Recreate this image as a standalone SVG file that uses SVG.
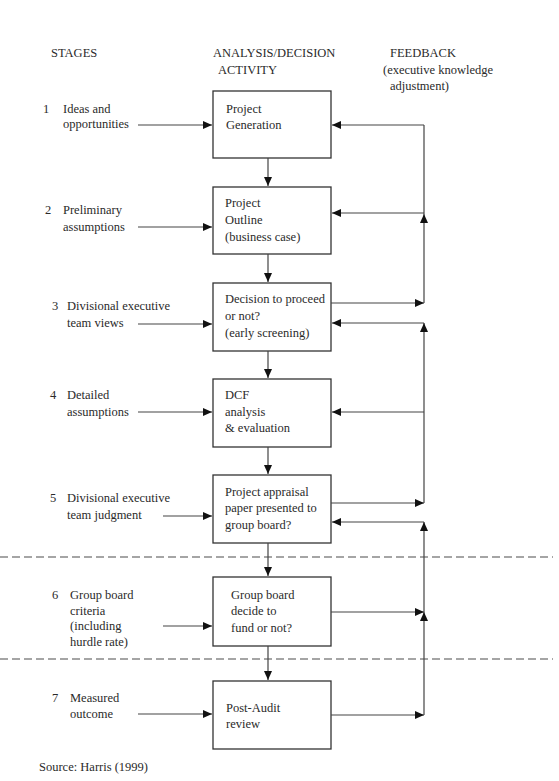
<svg xmlns="http://www.w3.org/2000/svg" width="559" height="781" viewBox="0 0 559 781">
<style>
text{font-family:"Liberation Serif","DejaVu Serif",serif;font-size:12.5px;fill:#2a2a2a}
.box{fill:#fff;stroke:#333;stroke-width:1.3}
.ln{fill:none;stroke:#444;stroke-width:1.2}
.ar{fill:none;stroke:#444;stroke-width:1.2;marker-end:url(#ah)}
.dash{fill:none;stroke:#888;stroke-width:1.4;stroke-dasharray:8 4}
</style>
<defs>
<marker id="ah" markerUnits="userSpaceOnUse" markerWidth="10" markerHeight="9" refX="9" refY="4" orient="auto">
<path d="M0,0 L9,4 L0,8 z" fill="#111"/>
</marker>
</defs>
<rect width="559" height="781" fill="#fff"/>

<g font-family="Liberation Serif, DejaVu Serif, serif">
<g id="headers">
<text x="51" y="57">STAGES</text>
<text x="213" y="57">ANALYSIS/DECISION</text>
<text x="218" y="74">ACTIVITY</text>
<text x="390" y="57">FEEDBACK</text>
<text x="383" y="74">(executive knowledge</text>
<text x="390" y="90">adjustment)</text>
</g>

<g id="dividers">
<path class="dash" d="M0,557 H553"/>
<path class="dash" d="M0,659 H553"/>
</g>

<g id="stage1"><text x="43" y="113">1</text><text x="63" y="113">Ideas and</text><text x="63" y="128">opportunities</text></g>
<g id="stage2"><text x="45" y="214">2</text><text x="63" y="214">Preliminary</text><text x="63" y="231">assumptions</text></g>
<g id="stage3"><text x="52" y="310">3</text><text x="67" y="310">Divisional executive</text><text x="67" y="327">team views</text></g>
<g id="stage4"><text x="50" y="399">4</text><text x="67" y="399">Detailed</text><text x="67" y="416">assumptions</text></g>
<g id="stage5"><text x="50" y="502">5</text><text x="67" y="502">Divisional executive</text><text x="67" y="519">team judgment</text></g>
<g id="stage6"><text x="52" y="599">6</text><text x="70" y="599">Group board</text><text x="70" y="615">criteria</text><text x="70" y="630">(including</text><text x="70" y="646">hurdle rate)</text></g>
<g id="stage7"><text x="52" y="702">7</text><text x="70" y="702">Measured</text><text x="70" y="718">outcome</text></g>

<g id="box1"><rect class="box" x="213" y="91" width="118" height="67"/><text x="226" y="113">Project</text><text x="226" y="129">Generation</text></g>
<g id="box2"><rect class="box" x="213" y="187" width="118" height="67"/><text x="225" y="207">Project</text><text x="225" y="224">Outline</text><text x="225" y="241">(business case)</text></g>
<g id="box3"><rect class="box" x="213" y="283" width="118" height="68"/><text x="225" y="303">Decision to proceed</text><text x="225" y="320">or not?</text><text x="225" y="337">(early screening)</text></g>
<g id="box4"><rect class="box" x="213" y="379" width="118" height="68"/><text x="225" y="399">DCF</text><text x="225" y="416">analysis</text><text x="225" y="432">&amp; evaluation</text></g>
<g id="box5"><rect class="box" x="213" y="475" width="118" height="68"/><text x="225" y="496">Project appraisal</text><text x="225" y="512">paper presented to</text><text x="225" y="529">group board?</text></g>
<g id="box6"><rect class="box" x="213" y="577" width="118" height="69"/><text x="231" y="599">Group board</text><text x="231" y="615">decide to</text><text x="231" y="632">fund or not?</text></g>
<g id="box7"><rect class="box" x="213" y="681" width="118" height="68"/><text x="226" y="712">Post-Audit</text><text x="226" y="728">review</text></g>

<g id="connectors">
<path class="ar" d="M138,125 H212"/>
<path class="ar" d="M138,227 H212"/>
<path class="ar" d="M138,324 H212"/>
<path class="ar" d="M138,412 H212"/>
<path class="ar" d="M163,516 H212"/>
<path class="ar" d="M163,626 H212"/>
<path class="ar" d="M138,714 H212"/>

<path class="ar" d="M268,158 V186"/>
<path class="ar" d="M268,254 V282"/>
<path class="ar" d="M268,351 V378"/>
<path class="ar" d="M268,447 V474"/>
<path class="ar" d="M268,543 V576"/>
<path class="ar" d="M268,646 V680"/>

<path class="ar" d="M331,303 H424"/>
<path class="ar" d="M331,503 H424"/>
<path class="ar" d="M331,612 H424"/>
<path class="ar" d="M331,715 H424"/>

<path class="ar" d="M424,125 H332"/>
<path class="ar" d="M424,213 H332"/>
<path class="ar" d="M424,323 H332"/>
<path class="ar" d="M424,412 H332"/>
<path class="ar" d="M424,522 H332"/>

<path class="ar" d="M424,303 V214"/>
<path class="ln" d="M424,214 V125"/>
<path class="ar" d="M424,503 V323"/>
<path class="ar" d="M424,715 V612"/>
<path class="ar" d="M424,612 V522"/>
</g>

<g id="source"><text x="39" y="771">Source: Harris (1999)</text></g>
</g>
</svg>
